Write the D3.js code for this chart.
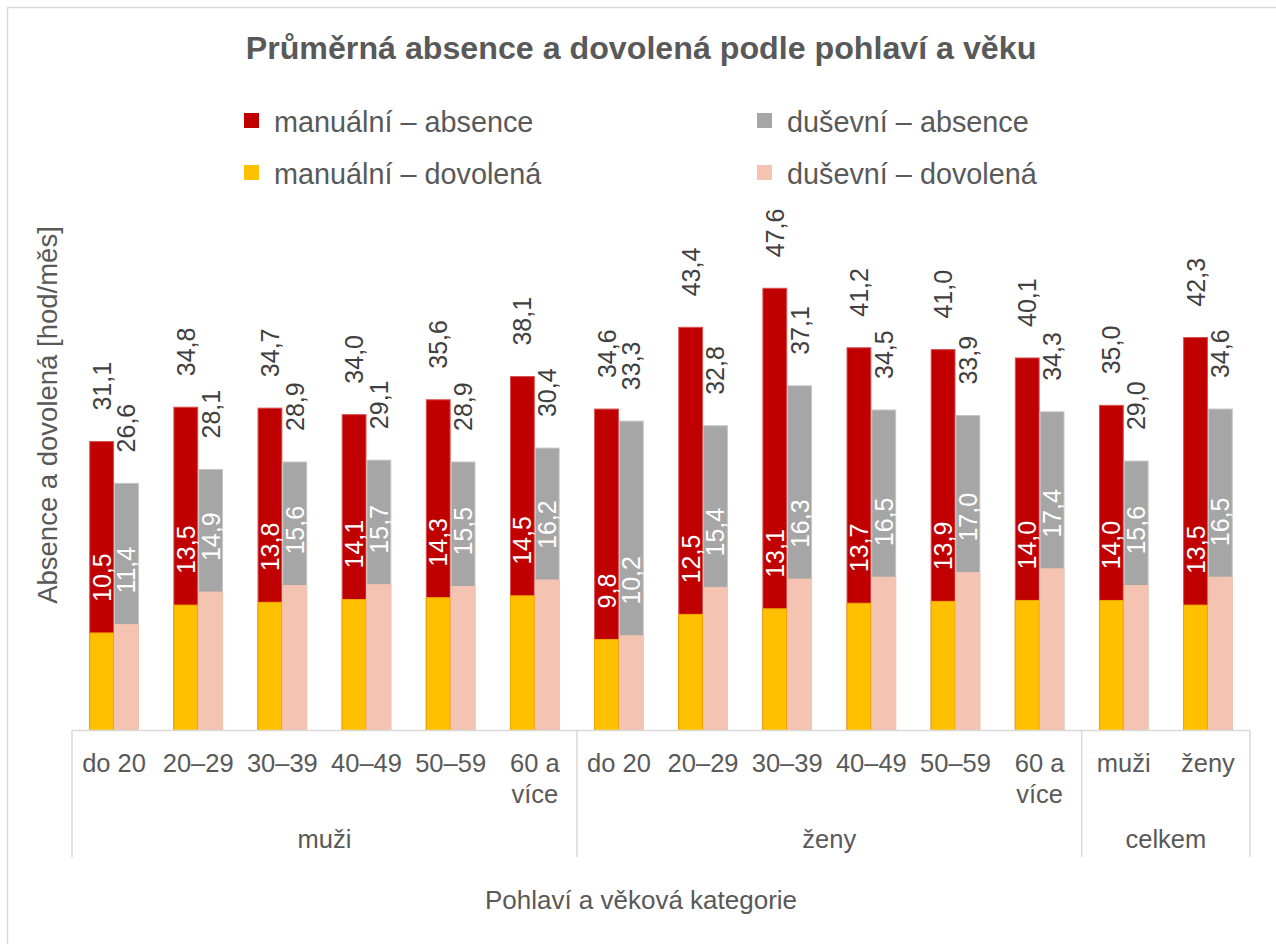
<!DOCTYPE html>
<html>
<head>
<meta charset="utf-8">
<script src="https://cdn.jsdelivr.net/npm/d3@7"></script>
<style>
  body { margin: 0; background: #fff; }
  text { font-family: "Liberation Sans", Arial, sans-serif; }
</style>
</head>
<body>
<svg id="chart" width="1276" height="944"></svg>
<script>
// categories along the x axis (age bands, grouped by sex)
const categories = ['do 20', '20–29', '30–39', '40–49', '50–59', '60 a|více',
                    'do 20', '20–29', '30–39', '40–49', '50–59', '60 a|více',
                    'muži', 'ženy'];
const categoryGroups = ['muži', 'muži', 'muži', 'muži', 'muži', 'muži',
                        'ženy', 'ženy', 'ženy', 'ženy', 'ženy', 'ženy',
                        'celkem', 'celkem'];
const groups = ['muži', 'ženy', 'celkem'];

// hours per month
const manualAbsence  = [31.1, 34.8, 34.7, 34.0, 35.6, 38.1, 34.6, 43.4, 47.6, 41.2, 41.0, 40.1, 35.0, 42.3];
const dusevniAbsence = [26.6, 28.1, 28.9, 29.1, 28.9, 30.4, 33.3, 32.8, 37.1, 34.5, 33.9, 34.3, 29.0, 34.6];
const manualDovolena  = [10.5, 13.5, 13.8, 14.1, 14.3, 14.5, 9.8, 12.5, 13.1, 13.7, 13.9, 14.0, 14.0, 13.5];
const dusevniDovolena = [11.4, 14.9, 15.6, 15.7, 15.5, 16.2, 10.2, 15.4, 16.3, 16.5, 17.0, 17.4, 15.6, 16.5];

const legendItems = [
  { label: 'manuální – absence', color: '#c00000' },
  { label: 'duševní – absence', color: '#a6a6a6' },
  { label: 'manuální – dovolená', color: '#ffc000' },
  { label: 'duševní – dovolená', color: '#f4c3b1' }
];

const svg = d3.select('#chart');
const textColor = '#595959';
const labelColor = '#404040';
const lineColor = '#d9d9d9';

const cz = d3.formatLocale({ decimal: ',', thousands: ' ', grouping: [3], currency: ['', ' Kč'] });
const fmt = cz.format('.1f');

// chart frame
svg.append('rect')
  .attr('x', 7.5).attr('y', 7.5)
  .attr('width', 1300).attr('height', 1000)
  .attr('fill', '#fff')
  .attr('stroke', lineColor).attr('stroke-width', 1.5);

// title
svg.append('text')
  .attr('x', 641).attr('y', 59)
  .attr('text-anchor', 'middle')
  .attr('font-size', 32.2).attr('font-weight', 'bold')
  .attr('fill', textColor)
  .text('Průměrná absence a dovolená podle pohlaví a věku');

// legend
const legend = svg.append('g');
legendItems.forEach((d, i) => {
  const col = i % 2, row = Math.floor(i / 2);
  const lx = 244 + col * 513, ly = 113 + row * 52;
  legend.append('rect')
    .attr('x', lx).attr('y', ly)
    .attr('width', 15).attr('height', 15)
    .attr('fill', d.color);
  legend.append('text')
    .attr('x', lx + 30).attr('y', ly + 18.5)
    .attr('font-size', 28.8)
    .attr('fill', textColor)
    .text(d.label);
});

// scales
const x = d3.scaleBand().domain(d3.range(categories.length)).range([72, 1250]).padding(0);
const bw = x.bandwidth();
const sub = d3.scaleBand().domain(['manuální', 'duševní']).range([bw * 0.205, bw * 0.795]).padding(0);
const y = d3.scaleLinear().domain([0, 50]).range([730.5, 266]);

const series = [
  { key: 'manuální', values: manualAbsence, fill: '#c00000', stroke: '#d85050' },
  { key: 'duševní', values: dusevniAbsence, fill: '#a6a6a6', stroke: '#c4c4c4' },
  { key: 'manuální', values: manualDovolena, fill: '#ffc000', stroke: '#f0a800', inside: true },
  { key: 'duševní', values: dusevniDovolena, fill: '#f4c3b1', stroke: '#f4c3b1', inside: true }
];

const bars = svg.append('g');
series.forEach(s => {
  bars.selectAll(null)
    .data(s.values)
    .enter().append('rect')
    .attr('x', (d, i) => x(i) + sub(s.key) + 0.5)
    .attr('y', d => y(d))
    .attr('width', sub.bandwidth() - 1)
    .attr('height', d => y(0) - y(d))
    .attr('fill', s.fill)
    .attr('stroke', s.stroke)
    .attr('stroke-width', 1);
});

// value labels, rotated
const labelSize = 25;
series.forEach(s => {
  bars.selectAll(null)
    .data(s.values)
    .enter().append('text')
    .attr('transform', (d, i) => {
      const cx = x(i) + sub(s.key) + sub.bandwidth() / 2 + labelSize * 0.36;
      return `translate(${cx},${y(d) - 31}) rotate(-90)`;
    })
    .attr('font-size', labelSize)
    .attr('fill', s.inside ? '#ffffff' : labelColor)
    .text(d => fmt(d));
});

// x axis
const axis = svg.append('g');
axis.append('line')
  .attr('x1', 72).attr('x2', 1250)
  .attr('y1', y(0)).attr('y2', y(0))
  .attr('stroke', lineColor).attr('stroke-width', 1.5);

categories.forEach((c, i) => {
  const t = axis.append('text')
    .attr('x', x(i) + bw / 2).attr('y', 772)
    .attr('text-anchor', 'middle')
    .attr('font-size', 25.5)
    .attr('fill', textColor);
  c.split('|').forEach((line, j) => {
    t.append('tspan')
      .attr('x', x(i) + bw / 2)
      .attr('dy', j === 0 ? 0 : 31)
      .text(line);
  });
});

// group separators and labels
groups.forEach(g => {
  const idx = categoryGroups.map((cg, i) => cg === g ? i : -1).filter(i => i >= 0);
  const x0 = x(idx[0]);
  const x1 = x(idx[idx.length - 1]) + bw;
  axis.append('text')
    .attr('x', (x0 + x1) / 2).attr('y', 848)
    .attr('text-anchor', 'middle')
    .attr('font-size', 25.5)
    .attr('fill', textColor)
    .text(g);
});
const separators = [0, 6, 12, 14].map(i => i < categories.length ? x(i) : x(categories.length - 1) + bw);
axis.selectAll(null)
  .data(separators)
  .enter().append('line')
  .attr('x1', d => d).attr('x2', d => d)
  .attr('y1', y(0)).attr('y2', 857)
  .attr('stroke', lineColor).attr('stroke-width', 1.5);

// axis titles
svg.append('text')
  .attr('x', 641).attr('y', 909)
  .attr('text-anchor', 'middle')
  .attr('font-size', 26)
  .attr('fill', textColor)
  .text('Pohlaví a věková kategorie');

svg.append('text')
  .attr('transform', 'translate(57,415) rotate(-90)')
  .attr('text-anchor', 'middle')
  .attr('font-size', 27.5)
  .attr('fill', textColor)
  .text('Absence a dovolená [hod/měs]');
</script>
</body>
</html>
